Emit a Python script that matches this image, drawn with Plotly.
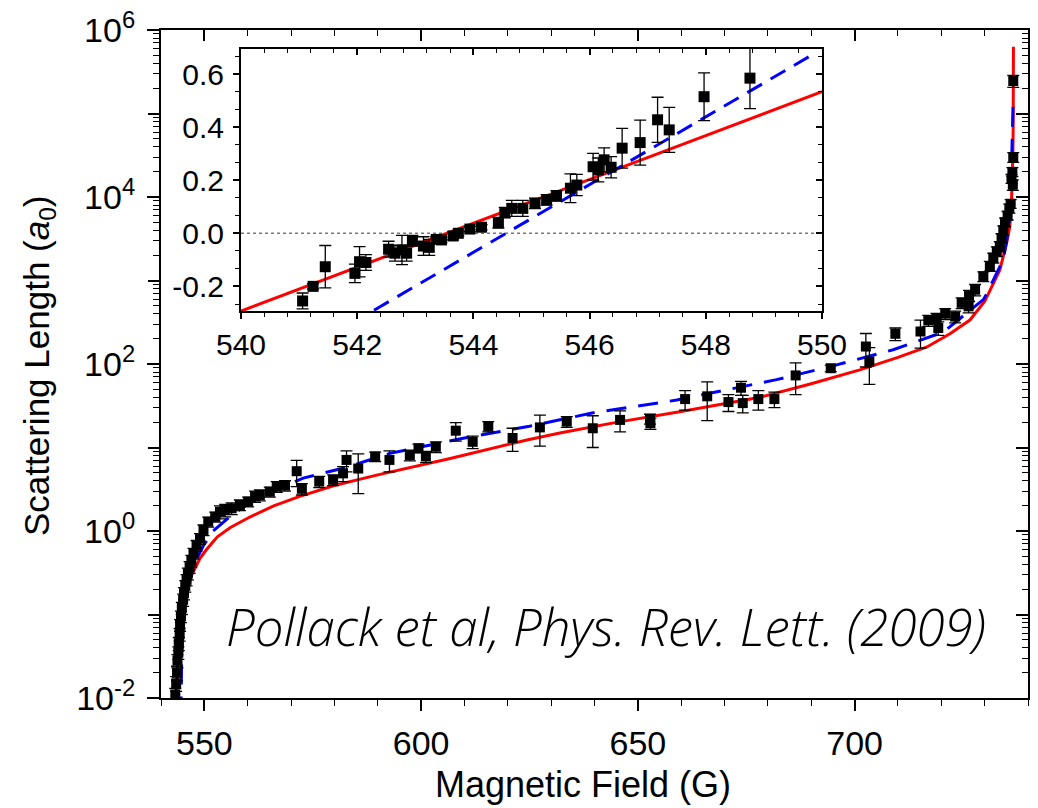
import plotly.graph_objects as go

# ---------------- main panel data ----------------
main_B = [543.3, 543.5, 543.7, 543.8, 544.0, 544.1, 544.3, 544.4, 544.6, 544.8,
          545.1, 545.3, 545.6, 545.9, 546.2, 546.6, 547.0, 547.5, 548.2, 549.0,
          549.8, 550.9, 552.5, 553.6, 554.8, 556.3, 558.2, 560.1, 561.7, 562.8,
          565.1, 566.7, 568.6, 571.3, 572.5, 576.5, 579.7, 582.0, 582.8, 585.5,
          589.4, 592.7, 597.4, 599.4, 601.1, 603.4, 608.0, 611.9, 615.5, 621.1,
          627.4, 633.6, 639.6, 645.9, 652.8, 652.9, 660.9, 666.0, 670.9, 673.8,
          674.2, 677.8, 681.5, 686.4, 694.5, 702.6, 703.4, 709.4, 715.2, 717.0,
          718.9, 719.3, 720.9, 723.2, 724.7, 726.3, 726.4, 727.8, 729.7, 731.2,
          732.0, 732.8, 733.5, 733.9, 734.3, 734.7, 735.3, 735.7, 736.0, 736.2,
          736.4, 736.5, 736.6, 736.6]
main_a = [0.011, 0.015, 0.020, 0.028, 0.035, 0.045, 0.058, 0.075, 0.095, 0.12,
          0.15, 0.18, 0.22, 0.26, 0.31, 0.37, 0.44, 0.54, 0.67, 0.81,
          1.03, 1.29, 1.48, 1.70, 1.78, 1.87, 2.05, 2.25, 2.6, 2.7,
          2.95, 3.4, 3.5, 5.2, 3.2, 3.9, 4.1, 4.9, 7.1, 5.6,
          7.8, 7.1, 8.1, 9.8, 7.8, 10.2, 15.9, 11.7, 17.9, 13.0,
          17.4, 20.4, 17.0, 21.4, 22.0, 19.5, 38, 41, 35, 52,
          34, 38, 38, 73, 89, 162, 107, 230, 245, 333,
          355, 270, 400, 370, 540, 490, 660, 775, 1120, 1490,
          1870, 2230, 2560, 3230, 4000, 5000, 6000, 7300, 8300, 16600,
          20000, 14000, 30000, 245000]
main_err = [0.002, 0.003, 0.004, 0.005, 0.006, 0.008, 0.01, 0.012, 0.015, 0.02,
            0.025, 0.03, 0.035, 0.04, 0.05, 0.06, 0.07, 0.08, 0.1, 0.12,
            0.15, 0.18, 0.2, 0.3, 0.3, 0.3, 0.3, 0.3, 0.4, 0.4,
            0.4, 0.5, 0.5, 1.8, 0.5, 0.6, 0.6, 1.0, 2.0, 2.8,
            1.0, 2.0, 1.2, 1.2, 1.2, 1.5, 4.0, 2.0, 2.5, 4.0,
            7.0, 3.0, 7.0, 6.0, 3.0, 3.0, 10, 20, 8, 10,
            8, 10, 8, 30, 8, 70, 50, 40, 90, 50,
            50, 50, 60, 60, 80, 80, 100, 120, 150, 200,
            250, 300, 350, 400, 500, 600, 700, 900, 1000, 2000,
            2500, 2000, 4000, 40000]

red_B = [543.62, 543.7, 543.85, 544.1, 544.5, 545.0, 546.0, 547.0, 548.0, 549.0,
         550.5, 553.0, 556.0, 560.5, 566.0, 572.0, 580.0, 590.0, 606.7, 624.4,
         632.0, 645.0, 660.0, 678.2, 690.0, 701.2, 710.0, 716.7, 722.0, 726.6,
         730.0, 733.5, 735.0, 735.8, 736.2, 736.4, 736.5, 736.58, 736.62, 736.64]
red_a = [0.0066, 0.013, 0.026, 0.046, 0.08, 0.12, 0.2, 0.29, 0.37, 0.47,
         0.6, 0.85, 1.1, 1.47, 2.0, 2.6, 3.5, 4.7, 7.4, 12.3,
         14.9, 20, 27, 40, 58, 85, 120, 160, 230, 336,
         560, 1340, 2700, 4400, 9000, 16000, 30000, 70000, 200000, 630000]

blue_B = [544.6, 544.65, 544.75, 545.0, 545.5, 546.0, 547.0, 548.0, 549.0, 549.8,
          552.0, 556.0, 560.0, 566.0, 572.8, 582.9, 592.8, 610.0, 625.0, 639.7,
          659.0, 682.0, 695.0, 708.9, 720.4, 729.7, 730.5, 734.3, 735.5, 736.0,
          736.4, 736.6]
blue_a = [0.006, 0.013, 0.026, 0.058, 0.12, 0.185, 0.31, 0.44, 0.57, 0.67,
          1.0, 1.5, 2.1, 3.0, 4.3, 5.8, 8.5, 13, 18, 26,
          37, 65, 95, 148, 240, 590, 700, 1780, 4000, 8000,
          63000, 145000]

# ---------------- inset data ----------------
inset_B = [541.06, 541.24, 541.45, 541.96, 542.04, 542.15, 542.54, 542.65, 542.77, 542.85,
           542.95, 543.14, 543.24, 543.36, 543.45, 543.65, 543.74, 543.94, 544.14, 544.43,
           544.54, 544.66, 544.85, 545.06, 545.26, 545.43, 545.67, 545.78, 546.06, 546.15,
           546.25, 546.37, 546.56, 546.87, 547.17, 547.37, 547.97, 548.76]
inset_a = [-0.255, -0.20, -0.126, -0.151, -0.107, -0.11, -0.06, -0.075, -0.063, -0.075,
           -0.028, -0.048, -0.053, -0.023, -0.025, -0.01, 0.0, 0.016, 0.023, 0.04,
           0.078, 0.094, 0.094, 0.113, 0.126, 0.141, 0.17, 0.182, 0.251, 0.239,
           0.277, 0.249, 0.321, 0.342, 0.428, 0.39, 0.515, 0.585]
inset_err = [0.03, 0.01, 0.08, 0.035, 0.057, 0.03, 0.03, 0.03, 0.055, 0.03,
             0.02, 0.035, 0.03, 0.01, 0.01, 0.015, 0.01, 0.01, 0.01, 0.02,
             0.02, 0.03, 0.03, 0.02, 0.02, 0.02, 0.054, 0.04, 0.05, 0.045,
             0.045, 0.04, 0.075, 0.085, 0.085, 0.085, 0.09, 0.115]
inset_red_B = [540.0, 550.0]
inset_red_a = [-0.293, 0.534]
inset_blue_B = [542.29, 549.8]
inset_blue_a = [-0.29, 0.669]

main_xticks = [550, 600, 650, 700]
main_yticks = [1e-2, 1e0, 1e2, 1e4, 1e6]
main_yticktext = ["10<sup>-2</sup>", "10<sup>0</sup>", "10<sup>2</sup>",
                  "10<sup>4</sup>", "10<sup>6</sup>"]
main_yticks_odd = [1e-1, 1e1, 1e3, 1e5]
main_yticks_all = [1e-2, 1e-1, 1e0, 1e1, 1e2, 1e3, 1e4, 1e5, 1e6]
inset_xticks = [540, 542, 544, 546, 548, 550]
inset_yticks = [-0.2, 0.0, 0.2, 0.4, 0.6]
inset_yticktext = ["-0.2", "0.0", "0.2", "0.4", "0.6"]

log_minor = [k * 10.0 ** n for n in range(-2, 6) for k in range(2, 10)]

FONT = "Liberation Sans, Arial, Helvetica, sans-serif"
RED = "#ff0000"
BLUE = "#0000ff"

fig = go.Figure()

fig.add_trace(go.Scatter(x=red_B, y=red_a, mode="lines", line=dict(color=RED, width=3),
                         xaxis="x", yaxis="y", showlegend=False, hoverinfo="skip"))
fig.add_trace(go.Scatter(x=blue_B, y=blue_a, mode="lines",
                         line=dict(color=BLUE, width=3, dash="20px,12px"),
                         xaxis="x", yaxis="y", showlegend=False, hoverinfo="skip"))
fig.add_trace(go.Scatter(x=main_B, y=main_a, mode="markers",
                         marker=dict(symbol="square", size=10, color="black"),
                         error_y=dict(type="data", array=main_err, color="black",
                                      thickness=1.3, width=6),
                         xaxis="x", yaxis="y", showlegend=False))
fig.add_trace(go.Scatter(x=inset_red_B, y=inset_red_a, mode="lines",
                         line=dict(color=RED, width=3),
                         xaxis="x2", yaxis="y2", showlegend=False, hoverinfo="skip"))
fig.add_trace(go.Scatter(x=inset_blue_B, y=inset_blue_a, mode="lines",
                         line=dict(color=BLUE, width=3, dash="17px,10px"),
                         xaxis="x2", yaxis="y2", showlegend=False, hoverinfo="skip"))
fig.add_trace(go.Scatter(x=inset_B, y=inset_a, mode="markers",
                         marker=dict(symbol="square", size=11, color="black"),
                         error_y=dict(type="data", array=inset_err, color="black",
                                      thickness=1.3, width=6),
                         xaxis="x2", yaxis="y2", showlegend=False))
# invisible anchors for the mirrored / extra tick axes
fig.add_trace(go.Scatter(x=[600], y=[1], mode="markers", marker=dict(opacity=0),
                         xaxis="x3", yaxis="y3", showlegend=False, hoverinfo="skip"))
fig.add_trace(go.Scatter(x=[545], y=[0], mode="markers", marker=dict(opacity=0),
                         xaxis="x4", yaxis="y4", showlegend=False, hoverinfo="skip"))
fig.add_trace(go.Scatter(x=[600], y=[1], mode="markers", marker=dict(opacity=0),
                         xaxis="x", yaxis="y5", showlegend=False, hoverinfo="skip"))

axis_common = dict(showline=True, linecolor="black", linewidth=2, showgrid=False,
                   zeroline=False, tickcolor="black", tickwidth=1.6, automargin=False)

X_RANGE = [540, 740]
Y_RANGE = [-2, 6]
IX_RANGE = [540, 550]
IY_RANGE = [-0.293, 0.695]

fig.update_layout(
    width=1038, height=808,
    margin=dict(l=161, r=10, t=30, b=110, autoexpand=False),
    paper_bgcolor="white", plot_bgcolor="rgba(0,0,0,0)",
    font=dict(family=FONT, color="black"),
    xaxis=dict(**axis_common, domain=[0, 1], anchor="y", range=X_RANGE,
               tickmode="array", tickvals=main_xticks, ticks="outside", ticklen=11,
               tickfont=dict(size=34, family=FONT), ticklabelstandoff=3,
               minor=dict(ticks="outside", dtick=10, tick0=540, ticklen=6,
                          tickwidth=1.4, tickcolor="black")),
    yaxis=dict(**axis_common, domain=[0, 1], anchor="x", type="log", range=Y_RANGE,
               tickmode="array", tickvals=main_yticks, ticktext=main_yticktext,
               ticks="outside", ticklen=12,
               tickfont=dict(size=34, family=FONT), ticklabelstandoff=5,
               minor=dict(ticks="outside", tickmode="array", tickvals=log_minor,
                          ticklen=6, tickwidth=1.2, tickcolor="black")),
    yaxis5=dict(overlaying="y", side="left", anchor="x", type="log", range=Y_RANGE,
                showline=False, showgrid=False, zeroline=False, automargin=False,
                tickmode="array", tickvals=main_yticks_odd, ticks="outside",
                ticklen=12, tickwidth=1.6, tickcolor="black", showticklabels=False),
    xaxis3=dict(**axis_common, overlaying="x", side="top", anchor="y", range=X_RANGE,
                tickmode="array", tickvals=main_xticks, ticks="inside", ticklen=11,
                showticklabels=False,
                minor=dict(ticks="inside", dtick=10, tick0=540, ticklen=6,
                           tickwidth=1.4, tickcolor="black")),
    yaxis3=dict(**axis_common, overlaying="y", side="right", anchor="x", type="log",
                range=Y_RANGE, tickmode="array", tickvals=main_yticks_all,
                ticks="inside", ticklen=12, showticklabels=False,
                minor=dict(ticks="inside", tickmode="array", tickvals=log_minor,
                           ticklen=6, tickwidth=1.2, tickcolor="black")),
    xaxis2=dict(**axis_common, domain=[0.0923, 0.7624], anchor="y2", range=IX_RANGE,
                tickmode="array", tickvals=inset_xticks, ticks="outside", ticklen=6,
                tickfont=dict(size=30, family=FONT), ticklabelstandoff=0,
                minor=dict(ticks="outside", dtick=0.4, tick0=540, ticklen=4,
                           tickwidth=1.2, tickcolor="black")),
    yaxis2=dict(**axis_common, domain=[0.5793, 0.9716], anchor="x2", range=IY_RANGE,
                tickmode="array", tickvals=inset_yticks, ticktext=inset_yticktext,
                ticks="outside", ticklen=6,
                tickfont=dict(size=30, family=FONT), ticklabelstandoff=3,
                minor=dict(ticks="outside", dtick=0.2 / 3, tick0=0, ticklen=4,
                           tickwidth=1.2, tickcolor="black")),
    xaxis4=dict(**axis_common, overlaying="x2", side="top", anchor="y2", range=IX_RANGE,
                tickmode="array", tickvals=inset_xticks, ticks="inside", ticklen=6,
                showticklabels=False,
                minor=dict(ticks="inside", dtick=0.4, tick0=540, ticklen=4,
                           tickwidth=1.2, tickcolor="black")),
    yaxis4=dict(**axis_common, overlaying="y2", side="right", anchor="x2", range=IY_RANGE,
                tickmode="array", tickvals=inset_yticks, ticks="inside", ticklen=6,
                showticklabels=False,
                minor=dict(ticks="inside", dtick=0.2 / 3, tick0=0, ticklen=4,
                           tickwidth=1.2, tickcolor="black")),
    shapes=[dict(type="line", xref="x2 domain", yref="y2", x0=0, x1=1, y0=0, y1=0,
                 line=dict(color="#777777", width=1.5, dash="dot"), layer="below")],
    annotations=[
        dict(text="Magnetic Field (G)", xref="paper", yref="paper",
             x=0.4867, y=-0.130, xanchor="center", yanchor="middle", showarrow=False,
             font=dict(size=36, family=FONT)),
        dict(text="Scattering Length (<i>a</i><sub>0</sub>)", xref="paper", yref="paper",
             x=-0.1407, y=0.497, xanchor="center", yanchor="middle", showarrow=False,
             textangle=-90, font=dict(size=35, family=FONT)),
        dict(text="Pollack et al, Phys. Rev. Lett. (2009)", xref="paper", yref="paper",
             x=0.5127, y=0.1075, xanchor="center", yanchor="middle", showarrow=False,
             font=dict(size=51, family="Open Sans, Noto Sans, sans-serif",
                       style="italic", weight=300)),
    ],
)

fig.write_html("out.html", config={"displayModeBar": False},
               post_script="document.body.style.margin='0';document.body.style.overflow='hidden';")
